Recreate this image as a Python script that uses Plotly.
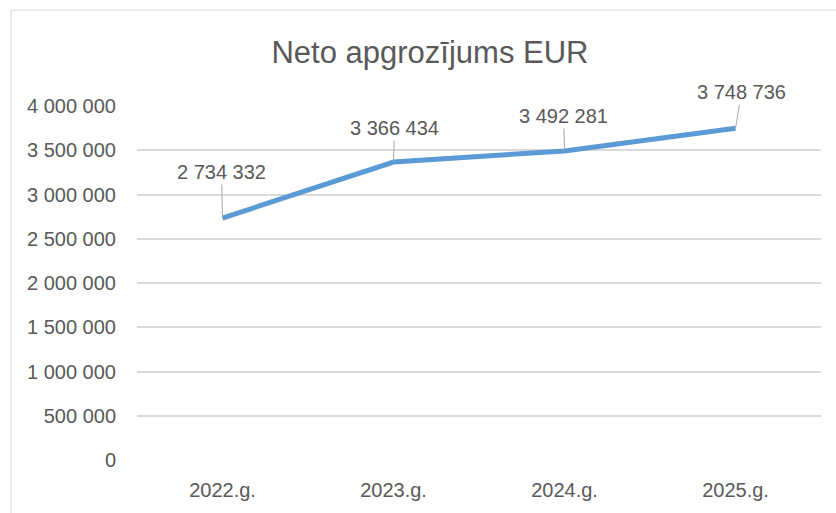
import plotly.graph_objects as go

categories = ["2022.g.", "2023.g.", "2024.g.", "2025.g."]
values = [2734332, 3366434, 3492281, 3748736]
label_texts = ["2 734 332", "3 366 434", "3 492 281", "3 748 736"]
label_offsets_x = [-1, 1, -1, 6]
label_offsets_y = [-46, -34, -35, -36]
tick_vals = [0, 500000, 1000000, 1500000, 2000000, 2500000, 3000000, 3500000, 4000000]
tick_text = ["0", "500 000", "1 000 000", "1 500 000", "2 000 000", "2 500 000",
             "3 000 000", "3 500 000", "4 000 000"]
title_text = "Neto apgrozījums EUR"

FONT = "Liberation Sans, Arial, sans-serif"
TXT = "#595959"

fig = go.Figure()
fig.add_trace(go.Scatter(
    x=categories, y=values, mode="lines",
    line=dict(color="#5B9BD5", width=5),
    hoverinfo="skip", showlegend=False,
))

for c, v, t, ax, ay in zip(categories, values, label_texts, label_offsets_x, label_offsets_y):
    fig.add_annotation(
        x=c, y=v, text=t, showarrow=True, arrowhead=0, arrowwidth=1,
        arrowcolor="#a6a6a6", ax=ax, ay=ay, standoff=0,
        font=dict(family=FONT, size=20, color=TXT),
    )

fig.add_shape(type="rect", xref="paper", yref="paper",
              x0=-0.184, x1=1.2, y0=-0.3, y1=1.271,
              line=dict(color="#d9d9d9", width=1), fillcolor="rgba(0,0,0,0)")

fig.update_layout(
    width=836, height=513,
    margin=dict(l=137, r=15, t=106, b=53, autoexpand=False),
    paper_bgcolor="white", plot_bgcolor="white",
    title=dict(text=title_text, x=430/836, xanchor="center",
               y=1 - 52/513, yanchor="middle", yref="container",
               font=dict(family=FONT, size=31, color=TXT)),
    font=dict(family=FONT, color=TXT),
    xaxis=dict(range=[-0.5, 3.5], showgrid=False, showline=False, zeroline=False,
               tickfont=dict(family=FONT, size=20, color=TXT),
               ticks="", ticklabelstandoff=16, fixedrange=True, automargin=False),
    yaxis=dict(range=[0, 4000000], tickvals=tick_vals, ticktext=tick_text,
               showgrid=True, gridcolor="#d9d9d9", gridwidth=1.5,
               zeroline=False, showline=False, ticks="",
               tickfont=dict(family=FONT, size=20, color=TXT),
               ticklabelstandoff=20, fixedrange=True, automargin=False),
)

fig.write_html("out.html", config={"displayModeBar": False},
               post_script="document.body.style.margin='0';")
